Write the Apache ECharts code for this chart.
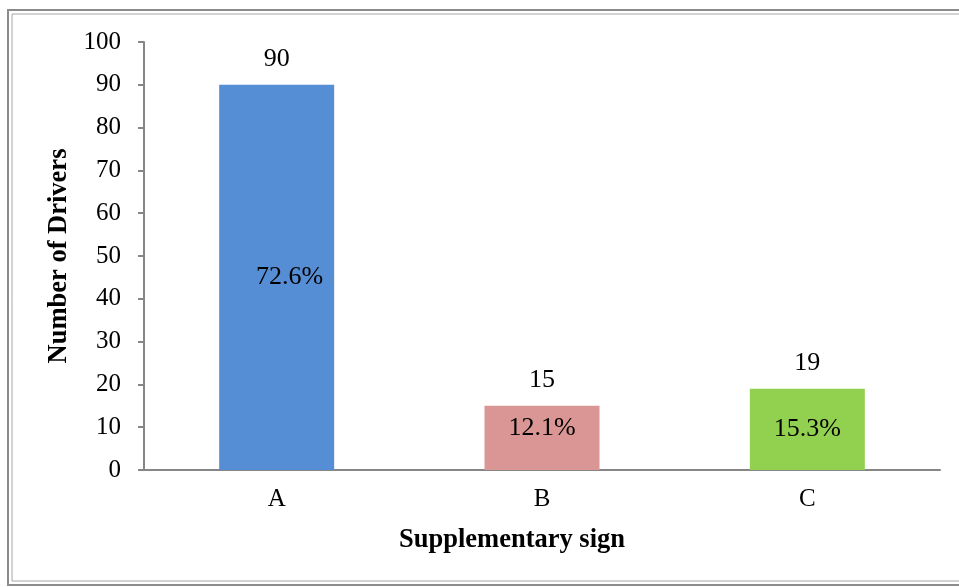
<!DOCTYPE html>
<html>
<head>
<meta charset="utf-8">
<script src="https://cdn.jsdelivr.net/npm/echarts@6/dist/echarts.min.js"></script>
<style>html,body{margin:0;padding:0;background:#fff;}#c{width:959px;height:587px;}</style>
</head>
<body>
<div id="c"></div>
<script>
var categories = ['A', 'B', 'C'];
var drivers = [90, 15, 19];
var percents = ['72.6%', '12.1%', '15.3%'];
var barColors = ['#558ed5', '#d99694', '#92d050'];
var yTicks = [0, 10, 20, 30, 40, 50, 60, 70, 80, 90, 100];

var FONT = '"Liberation Serif", "Times New Roman", serif';
var chart = echarts.init(document.getElementById('c'), null, {renderer: 'canvas'});
var pctOffsets = [[13, 0], [0, -10], [0, 0]];
chart.setOption({
  animation: false,
  backgroundColor: '#fff',
  graphic: [
    {type: 'rect', shape: {x: 8, y: 10, width: 1000, height: 575}, style: {fill: 'none', stroke: '#8c8c8c', lineWidth: 2}},
    {type: 'rect', shape: {x: 12, y: 14, width: 1000, height: 567}, style: {fill: 'none', stroke: '#a6a6a6', lineWidth: 1}}
  ],
  grid: {left: 144, top: 42, width: 796, height: 428},
  xAxis: {
    type: 'category',
    data: categories,
    axisLine: {lineStyle: {color: '#868686', width: 2}},
    axisTick: {show: false},
    axisLabel: {color: '#000', fontFamily: FONT, fontSize: 25, margin: 17},
    name: 'Supplementary sign',
    nameLocation: 'middle',
    nameGap: 57,
    nameTextStyle: {color: '#000', fontFamily: FONT, fontSize: 26.5, fontWeight: 'bold', padding: [0, 60, 0, 0]}
  },
  yAxis: {
    type: 'value',
    min: yTicks[0],
    max: yTicks[yTicks.length - 1],
    interval: yTicks[1] - yTicks[0],
    axisLine: {show: true, lineStyle: {color: '#868686', width: 2}},
    axisTick: {show: true, length: 6, lineStyle: {color: '#868686', width: 2}},
    splitLine: {show: false},
    axisLabel: {color: '#000', fontFamily: FONT, fontSize: 25, margin: 23},
    name: 'Number of Drivers',
    nameLocation: 'middle',
    nameGap: 70,
    nameRotate: 90,
    nameTextStyle: {color: '#000', fontFamily: FONT, fontSize: 26.5, fontWeight: 'bold'}
  },
  series: [
    {
      type: 'bar',
      barWidth: 115,
      data: drivers.map(function (v, i) { return {value: v, itemStyle: {color: barColors[i]}}; }),
      label: {show: true, position: 'top', distance: 13, color: '#000', fontFamily: FONT, fontSize: 26}
    },
    {
      type: 'bar',
      barWidth: 115,
      barGap: '-100%',
      silent: true,
      itemStyle: {color: 'rgba(0,0,0,0)'},
      data: drivers.map(function (v, i) {
        return {value: v, label: {offset: pctOffsets[i]}};
      }),
      label: {
        show: true, position: 'inside', color: '#000', fontFamily: FONT, fontSize: 26,
        formatter: function (p) { return percents[p.dataIndex]; }
      }
    }
  ]
});
</script>
</body>
</html>
